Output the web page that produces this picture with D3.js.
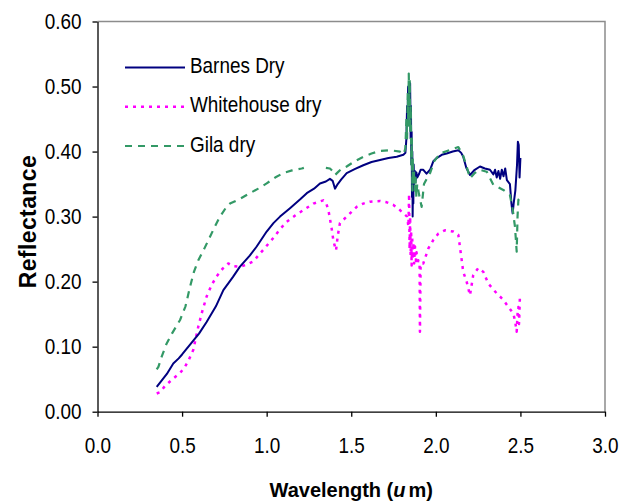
<!DOCTYPE html>
<html>
<head>
<meta charset="utf-8">
<script src="https://cdn.jsdelivr.net/npm/d3@7"></script>
<style>
  body { margin: 0; background: #fff; }
  svg text { font-family: "Liberation Sans", Arial, sans-serif; fill: #000; }
</style>
</head>
<body>
<svg id="chart"></svg>
<script>
// wavelength (um), reflectance pairs
const barnesDry = [
  [0.35,0.038],[0.38,0.048],[0.41,0.058],[0.448,0.074],[0.48,0.082],[0.50,0.088],[0.547,0.103],
  [0.60,0.120],[0.645,0.138],[0.70,0.162],[0.744,0.187],[0.80,0.207],[0.842,0.223],[0.90,0.240],
  [0.941,0.254],[1.00,0.277],[1.04,0.290],[1.079,0.300],[1.138,0.313],[1.20,0.327],[1.237,0.336],
  [1.28,0.343],[1.315,0.351],[1.35,0.354],[1.374,0.358],[1.39,0.355],[1.404,0.343],[1.42,0.350],
  [1.44,0.357],[1.473,0.367],[1.52,0.373],[1.571,0.379],[1.62,0.384],[1.67,0.387],[1.72,0.390],
  [1.769,0.392],[1.808,0.395],[1.82,0.398],[1.826,0.42],[1.83,0.47],[1.833,0.44],[1.836,0.50],
  [1.839,0.46],[1.842,0.507],[1.845,0.49],[1.848,0.505],[1.851,0.42],[1.853,0.47],[1.855,0.38],
  [1.857,0.43],[1.859,0.33],[1.861,0.40],[1.863,0.30],[1.865,0.36],[1.867,0.32],[1.869,0.38],
  [1.872,0.35],[1.876,0.37],[1.88,0.355],[1.885,0.368],[1.89,0.36],[1.90,0.365],[1.91,0.372],
  [1.926,0.372],[1.945,0.366],[1.966,0.372],[1.985,0.385],[2.005,0.390],[2.035,0.395],[2.064,0.397],
  [2.10,0.400],[2.133,0.402],[2.15,0.398],[2.162,0.392],[2.18,0.375],[2.202,0.364],[2.23,0.372],
  [2.261,0.377],[2.29,0.374],[2.32,0.372],[2.34,0.365],[2.35,0.372],[2.36,0.360],[2.37,0.370],
  [2.38,0.358],[2.39,0.372],[2.40,0.362],[2.41,0.374],[2.42,0.356],[2.438,0.350],[2.447,0.320],
  [2.454,0.305],[2.46,0.32],[2.47,0.34],[2.48,0.38],[2.485,0.415],[2.49,0.41],[2.495,0.36],
  [2.50,0.39]
]
const whitehouseDry = [
  [0.35,0.028],[0.37,0.030],[0.40,0.040],[0.448,0.051],[0.49,0.060],[0.517,0.069],[0.54,0.080],
  [0.566,0.095],[0.596,0.131],[0.62,0.155],[0.645,0.177],[0.675,0.195],[0.704,0.208],[0.74,0.220],
  [0.773,0.228],[0.80,0.224],[0.842,0.223],[0.88,0.226],[0.921,0.231],[0.95,0.240],[0.98,0.249],
  [1.039,0.267],[1.08,0.281],[1.118,0.292],[1.17,0.302],[1.217,0.310],[1.276,0.320],[1.335,0.325],
  [1.35,0.322],[1.365,0.310],[1.384,0.282],[1.395,0.262],[1.41,0.248],[1.42,0.270],[1.433,0.290],
  [1.473,0.300],[1.532,0.315],[1.571,0.320],[1.611,0.323],[1.67,0.324],[1.71,0.322],[1.749,0.318],
  [1.78,0.312],[1.808,0.305],[1.83,0.300],[1.838,0.285],[1.842,0.335],[1.845,0.25],[1.848,0.30],
  [1.851,0.24],[1.854,0.279],[1.857,0.225],[1.86,0.27],[1.864,0.235],[1.868,0.26],[1.872,0.228],
  [1.877,0.254],[1.882,0.232],[1.886,0.245],[1.892,0.226],[1.896,0.233],[1.904,0.228],[1.906,0.123],
  [1.91,0.228],[1.926,0.228],[1.956,0.251],[1.985,0.264],[2.015,0.274],[2.054,0.279],[2.103,0.277],
  [2.133,0.272],[2.153,0.233],[2.162,0.215],[2.182,0.200],[2.202,0.179],[2.221,0.210],[2.251,0.221],
  [2.281,0.215],[2.31,0.197],[2.36,0.182],[2.399,0.172],[2.429,0.161],[2.458,0.151],[2.468,0.140],
  [2.478,0.123],[2.483,0.150],[2.488,0.161],[2.492,0.135],[2.497,0.177]
]
// null = no data (gap in the dashed line)
const gilaDry = [
  [0.35,0.065],[0.36,0.069],[0.38,0.085],[0.409,0.105],[0.44,0.120],[0.488,0.141],[0.52,0.162],
  [0.547,0.192],[0.57,0.215],[0.596,0.233],[0.63,0.250],[0.665,0.269],[0.70,0.288],[0.724,0.300],
  [0.76,0.314],[0.783,0.320],[0.84,0.327],[0.901,0.336],[0.95,0.343],[1.00,0.351],[1.05,0.360],
  [1.098,0.367],[1.15,0.371],[1.207,0.374],[1.22,0.375],[1.28,null],[1.35,0.375],[1.374,0.374],
  [1.39,0.370],[1.404,0.364],[1.42,0.368],[1.44,0.373],[1.473,0.377],[1.52,0.385],[1.571,0.392],
  [1.62,0.397],[1.67,0.401],[1.729,0.402],[1.788,0.400],[1.81,0.396],[1.82,0.405],[1.826,0.45],
  [1.83,0.42],[1.834,0.49],[1.837,0.44],[1.84,0.52],[1.843,0.47],[1.846,0.51],[1.849,0.43],
  [1.852,0.47],[1.855,0.38],[1.858,0.42],[1.861,0.34],[1.864,0.39],[1.868,0.35],[1.872,0.37],
  [1.876,0.34],[1.88,0.36],[1.885,0.33],[1.89,0.35],[1.90,0.335],[1.916,0.315],[1.93,0.350],
  [1.95,0.360],[1.966,0.367],[1.99,0.385],[2.025,0.397],[2.08,0.402],[2.133,0.407],[2.16,0.395],
  [2.182,0.377],[2.202,0.359],[2.23,0.367],[2.261,0.372],[2.301,0.369],[2.34,0.349],[2.37,0.345],
  [2.399,0.341],[2.438,0.333],[2.455,0.31],[2.468,0.284],[2.478,0.246],[2.483,0.30],[2.488,0.326],
  [2.497,0.321]
]
const seriesNames = ["Barnes Dry", "Whitehouse dry", "Gila dry"]
const xTicks = [0, 0.5, 1.0, 1.5, 2.0, 2.5, 3.0]
const yTicks = [0, 0.1, 0.2, 0.3, 0.4, 0.5, 0.6]

const width = 633, height = 503
const margin = { left: 97.5, right: 28, top: 21.5, bottom: 91.3 }
const narrow = 0.86 // the original labels are a condensed Arial

const svg = d3.select("#chart").attr("width", width).attr("height", height)

const x = d3.scaleLinear().domain([0, 3]).range([margin.left, width - margin.right])
const y = d3.scaleLinear().domain([0, 0.6]).range([height - margin.bottom, margin.top])

// gray frame on top and right
svg.append("path")
  .attr("d", `M${x(0)},${y(0.6)}H${x(3)}V${y(0)}`)
  .attr("fill", "none")
  .attr("stroke", "#8c8c8c")
  .attr("stroke-width", 1.5)

const styles = [
  { data: barnesDry, color: "#000080", dash: null, w: 2 },
  { data: whitehouseDry, color: "#ff00ff", dash: "3,5", w: 2.5 },
  { data: gilaDry, color: "#339966", dash: "7,6", w: 2.2 }
]

const line = d3.line()
  .defined(d => d[1] != null)
  .x(d => x(d[0]))
  .y(d => y(d[1]))

// draw whitehouse and gila first, barnes on top
const drawOrder = [1, 0, 2]
for (let i of drawOrder) {
  const s = styles[i]
  svg.append("path")
    .datum(s.data)
    .attr("fill", "none")
    .attr("stroke", s.color)
    .attr("stroke-width", s.w)
    .attr("stroke-dasharray", s.dash)
    .attr("stroke-linejoin", "round")
    .attr("d", line)
}

// axes
const xAxis = d3.axisBottom(x).tickValues(xTicks).tickFormat(d3.format(".1f"))
  .tickSize(5).tickSizeOuter(0).tickPadding(21)
const xg = svg.append("g")
  .attr("transform", `translate(0,${y(0)})`)
  .call(xAxis)
const yAxis = d3.axisLeft(y).tickValues(yTicks).tickFormat(d3.format(".2f"))
  .tickSize(5).tickSizeOuter(0).tickPadding(11)
const yg = svg.append("g")
  .attr("transform", `translate(${x(0)},0)`)
  .call(yAxis)

for (let g of [xg, yg]) {
  g.select(".domain").attr("stroke", "#000").attr("stroke-width", 1.3)
  g.selectAll(".tick line").attr("stroke", "#000").attr("stroke-width", 1.3)
  g.selectAll("text")
    .attr("font-size", 22)
    .attr("fill", "#000")
    .each(function () {
      const t = d3.select(this)
      const tx = +t.attr("x") || 0
      t.attr("x", 0).attr("transform", `translate(${tx},0) scale(${narrow},1)`)
    })
}

// axis titles
const xTitle = svg.append("text")
  .attr("x", (x(0) + x(3)) / 2)
  .attr("y", 497)
  .attr("text-anchor", "middle")
  .attr("font-size", 20)
  .attr("font-weight", "bold")
xTitle.append("tspan").text("Wavelength (")
xTitle.append("tspan").attr("font-style", "italic").text("u")
xTitle.append("tspan").attr("dx", 3).text("m)")

svg.append("text")
  .attr("transform", `translate(36,${(y(0) + y(0.6)) / 2 + 5}) rotate(-90)`)
  .attr("text-anchor", "middle")
  .attr("font-size", 23)
  .attr("font-weight", "bold")
  .attr("letter-spacing", 0.4)
  .text("Reflectance")

// legend
const legendY = [67.5, 106.7, 146]
const legend = svg.append("g")
seriesNames.forEach((name, i) => {
  const s = styles[i]
  legend.append("line")
    .attr("x1", 125).attr("x2", 185)
    .attr("y1", legendY[i]).attr("y2", legendY[i])
    .attr("stroke", s.color)
    .attr("stroke-width", s.w)
    .attr("stroke-dasharray", s.dash)
  legend.append("text")
    .attr("transform", `translate(190,${legendY[i] + 5.5}) scale(${narrow},1)`)
    .attr("font-size", 22)
    .text(name)
})
</script>
</body>
</html>
